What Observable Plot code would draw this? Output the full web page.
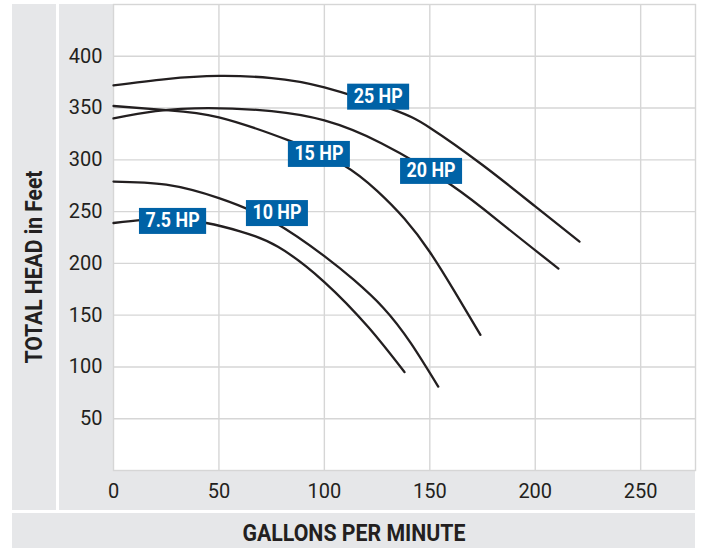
<!DOCTYPE html>
<html>
<head>
<meta charset="utf-8">
<script src="https://cdn.jsdelivr.net/npm/d3@7"></script>
<script src="https://cdn.jsdelivr.net/npm/@observablehq/plot@0.6"></script>
<style>
  html, body { margin: 0; padding: 0; background: #ffffff; }
  #wrap { position: relative; width: 703px; height: 548px; overflow: hidden; }
  .band { position: absolute; background: #e6e7e9; }
  #chart { position: absolute; left: 0; top: 0; }
  .title { position: absolute; font-family: Roboto, "Noto Sans", sans-serif;
           font-weight: bold; font-size: 24px; color: #231f20; white-space: nowrap; line-height: 1; }
</style>
</head>
<body>
<div id="wrap">
  <div class="band" style="left:12px;top:4px;width:44px;height:506px"></div>
  <div class="band" style="left:59px;top:4px;width:54px;height:506px"></div>
  <div class="band" style="left:59px;top:470px;width:636px;height:40px"></div>
  <div class="band" style="left:12px;top:513px;width:683px;height:35px"></div>
  <div id="chart"></div>
  <div class="title" id="xtitle">GALLONS PER MINUTE</div>
  <div class="title" id="ytitle">TOTAL HEAD in Feet</div>
</div>
<script>
// ---- data ----
const seriesNames = ["7.5 HP", "10 HP", "15 HP", "20 HP", "25 HP"];

const gpm75  = [0, 14, 28, 44, 60, 78, 100, 121, 138];
const head75 = [239, 242, 243, 239, 231, 216, 182, 138, 95];

const gpm10  = [0, 25, 50, 76, 100, 114, 128, 141, 154];
const head10 = [279, 276, 263, 240, 207, 184, 157, 123, 81];

const gpm15  = [0, 25, 50, 84, 109, 125, 138, 150, 162, 174];
const head15 = [352, 348, 341, 318, 295, 270, 243, 211, 172, 131];

const gpm20  = [0, 20, 45, 75, 100, 127, 160, 185, 211];
const head20 = [340, 347, 350, 347, 338, 316, 276, 237, 195];

const gpm25  = [0, 25, 50, 75, 100, 132, 150, 175, 200, 221];
const head25 = [372, 378, 381, 379, 370, 349, 331, 295, 255, 221];

// label anchor positions (data units)
const labelGpm  = [28, 77.5, 97.4, 150.6, 125.5];
const labelHead = [241, 248.6, 305.7, 289.3, 361];

const xTicks = [0, 50, 100, 150, 200, 250];
const yTicks = [50, 100, 150, 200, 250, 300, 350, 400];

const xTitle = "GALLONS PER MINUTE";
const yTitle = "TOTAL HEAD in Feet";

// ---- build tables ----
const gpms = [gpm75, gpm10, gpm15, gpm20, gpm25];
const heads = [head75, head10, head15, head20, head25];
const rows = [];
seriesNames.forEach((name, s) => {
  gpms[s].forEach((g, i) => rows.push({series: name, gpm: g, head: heads[s][i]}));
});
const labels = seriesNames.map((name, i) => ({name, gpm: labelGpm[i], head: labelHead[i]}));

const measureCtx = document.createElement("canvas").getContext("2d");
function measure(text, font) { measureCtx.font = font; return measureCtx.measureText(text).width; }

const labelFontFamily = "Roboto";
const labelFontSize = 20;
const labelFont = `bold ${labelFontSize}px ${labelFontFamily}`;
const labelSquash = 49 / measure("25 HP", labelFont);

function boxedText(index, scales, values, dimensions, context, next) {
  const g = next(index, scales, values, dimensions, context);
  const ns = "http://www.w3.org/2000/svg";
  const texts = g.querySelectorAll("text");
  const rects = [];
  Array.from(index).forEach((i, k) => {
    const tl = measure(labels[i].name, labelFont) * labelSquash;
    const w = tl + 13;
    const h = 26;
    const r = document.createElementNS(ns, "rect");
    r.setAttribute("x", values.x[i] - w / 2);
    r.setAttribute("y", values.y[i] - h / 2);
    r.setAttribute("width", w);
    r.setAttribute("height", h);
    r.setAttribute("fill", "#0062a6");
    rects.push(r);
    const t = texts[k];
    if (t) { t.setAttribute("textLength", tl); t.setAttribute("lengthAdjust", "spacingAndGlyphs"); }
  });
  const first = g.firstChild;
  for (const r of rects) g.insertBefore(r, first);
  return g;
}

const chart = Plot.plot({
  width: 703,
  height: 548,
  marginLeft: 113,
  marginRight: 8,
  marginTop: 4,
  marginBottom: 78,
  style: {background: "transparent", fontFamily: "Roboto, 'Noto Sans', sans-serif", fontSize: "20px", color: "#231f20"},
  x: {domain: [0, 276], ticks: xTicks, tickSize: 0, tickPadding: 13, label: null},
  y: {domain: [0, 450], ticks: yTicks, tickSize: 0, tickPadding: 11, label: null},
  marks: [
    Plot.ruleX(xTicks.slice(1), {stroke: "#d6d6d6", strokeWidth: 1.4}),
    Plot.ruleY(yTicks, {stroke: "#d6d6d6", strokeWidth: 1.4}),
    Plot.frame({stroke: "#d6d6d6", strokeWidth: 1.4}),
    Plot.line(rows, {x: "gpm", y: "head", z: "series", stroke: "#231f20", strokeWidth: 2.3, curve: "natural"}),
    Plot.text(labels, {x: "gpm", y: "head", text: "name", fill: "white", fontWeight: "bold",
      fontSize: labelFontSize, fontFamily: labelFontFamily, render: boxedText})
  ]
});
document.getElementById("chart").appendChild(chart);

// axis titles, condensed to the reference widths
const titleFont = "bold 24px Roboto";
const xs = 223 / measure(xTitle, titleFont);
const ys = 193 / measure(yTitle, titleFont);
const xt = document.getElementById("xtitle");
xt.textContent = xTitle;
xt.style.left = "353.5px"; xt.style.top = "533px";
xt.style.transform = `translate(-50%, -50%) scaleX(${xs})`;
const yt = document.getElementById("ytitle");
yt.textContent = yTitle;
yt.style.left = "34px"; yt.style.top = "267px";
yt.style.transform = `translate(-50%, -50%) rotate(-90deg) scaleX(${ys})`;
</script>
</body>
</html>
